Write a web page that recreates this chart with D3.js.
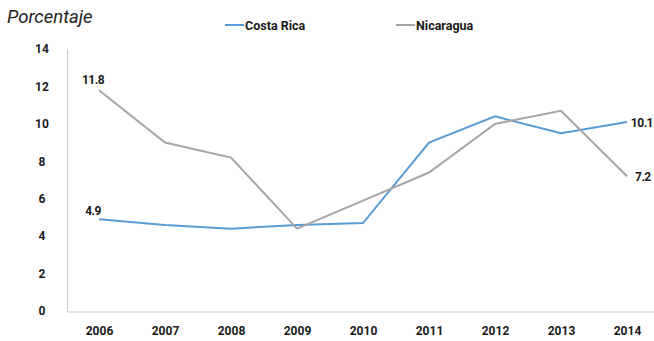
<!DOCTYPE html>
<html>
<head>
<meta charset="utf-8">
<script src="https://cdn.jsdelivr.net/npm/d3@7"></script>
<style>
  html, body { margin: 0; padding: 0; background: #fff; }
  svg { display: block; }
  text { font-family: Roboto, "Noto Sans", sans-serif; }
</style>
</head>
<body>
<svg id="chart" width="654" height="341"></svg>
<script>
// Years on the horizontal axis
const years = ["2006", "2007", "2008", "2009", "2010", "2011", "2012", "2013", "2014"];
// Percentage values per country
const costaRica = [4.9, 4.6, 4.4, 4.6, 4.7, 9.0, 10.4, 9.5, 10.1];
const nicaragua = [11.8, 9.0, 8.2, 4.4, 5.9, 7.4, 10.0, 10.7, 7.2];
const yTicks = [0, 2, 4, 6, 8, 10, 12, 14];
const seriesNames = ["Costa Rica", "Nicaragua"];
const seriesColors = ["#5b9bd5", "#a5a5a5"];

const svg = d3.select("#chart");

const x = d3.scalePoint().domain(years).range([99, 627]);
const y = d3.scaleLinear().domain([0, 14]).range([311, 49]);

// Axis title
svg.append("text")
  .attr("x", 7).attr("y", 23)
  .attr("font-size", 18.5)
  .attr("font-style", "italic")
  .attr("fill", "#222")
  .text("Porcentaje");

// Y axis
const yAxis = svg.append("g")
  .attr("transform", "translate(67,0)")
  .call(d3.axisLeft(y).tickValues(yTicks).tickSize(0).tickPadding(22));
yAxis.select(".domain").attr("stroke", "#c8c8c8").attr("stroke-width", 1);
yAxis.selectAll("text")
  .attr("font-size", 12).attr("font-weight", "bold").attr("fill", "#1a1a1a")
  .attr("text-anchor", "middle").attr("dx", "-3");

// X axis
const xAxis = svg.append("g")
  .attr("transform", "translate(0,312)")
  .call(d3.axisBottom(x).tickSize(0).tickPadding(14));
xAxis.select(".domain").attr("d", "M67,0H654").attr("stroke", "#c8c8c8");
xAxis.selectAll("text")
  .attr("font-size", 12).attr("font-weight", "bold").attr("fill", "#1a1a1a");

// Lines
const line = d3.line()
  .x((d, i) => x(years[i]))
  .y(d => y(d));

[costaRica, nicaragua].forEach((vals, k) => {
  svg.append("path")
    .datum(vals)
    .attr("fill", "none")
    .attr("stroke", seriesColors[k])
    .attr("stroke-width", 2)
    .attr("d", line);
});

// Value labels at the ends
const labelStyle = sel => sel.attr("font-size", 12).attr("font-weight", "bold")
  .attr("fill", "#1a1a1a").attr("letter-spacing", "-0.5");
svg.append("text").call(labelStyle)
  .attr("x", x(years[0]) - 6).attr("y", y(nicaragua[0]) - 6)
  .attr("text-anchor", "middle").text(nicaragua[0].toFixed(1));
svg.append("text").call(labelStyle)
  .attr("x", x(years[0]) - 6).attr("y", y(costaRica[0]) - 4)
  .attr("text-anchor", "middle").text(costaRica[0].toFixed(1));
svg.append("text").call(labelStyle)
  .attr("x", 653).attr("y", y(costaRica[8]) + 5)
  .attr("text-anchor", "end")
  .text(costaRica[8].toFixed(1));
svg.append("text").call(labelStyle)
  .attr("x", x(years[8]) + 8).attr("y", y(nicaragua[8]) + 5)
  .text(nicaragua[8].toFixed(1));

// Legend
const legendX = [225, 396];
seriesNames.forEach((name, k) => {
  const g = svg.append("g").attr("transform", `translate(${legendX[k]},25)`);
  g.append("line").attr("x1", 0).attr("x2", 19).attr("y1", 0).attr("y2", 0)
    .attr("stroke", seriesColors[k]).attr("stroke-width", 2);
  g.append("text").attr("x", 20).attr("y", 4.5)
    .attr("font-size", 12.5).attr("font-weight", "bold").attr("fill", "#1a1a1a")
    .text(name);
});
</script>
</body>
</html>
